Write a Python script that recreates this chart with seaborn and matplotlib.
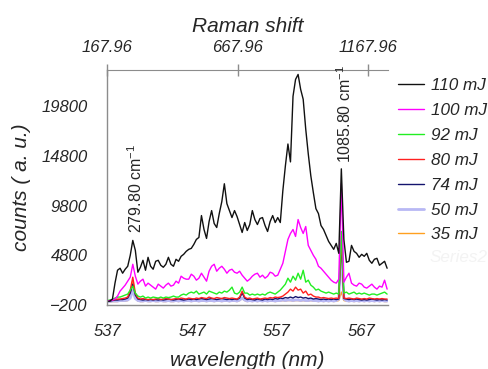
import numpy as np
import pandas as pd
import seaborn as sns
import matplotlib.pyplot as plt

sns.set_style("white")
plt.rcParams['font.family'] = ['Liberation Sans', 'DejaVu Sans']
plt.rcParams['mathtext.fontset'] = 'custom'
plt.rcParams['mathtext.rm'] = 'Liberation Sans'

# wavelength grid (nm), 0.3 nm steps from 537 to 570
wavelength = np.round(537 + 0.3 * np.arange(111), 2)

mj110 = [150, 200, 400, 2000, 3300, 3500, 3000, 3400, 3700, 4800,
         6300, 5300, 3100, 3600, 4300, 3300, 4600, 3700, 3400, 4200,
         4300, 3800, 3600, 3900, 4600, 3900, 3700, 4400, 4200, 4700,
         4900, 5200, 5400, 5500, 5900, 6400, 6600, 8800, 7400, 6500,
         8200, 9300, 8000, 7600, 9000, 10200, 12000, 10000, 9300, 8600,
         9300, 8700, 7900, 7100, 8100, 7300, 7900, 9300, 8400, 7900,
         8500, 8600, 7800, 7200, 8200, 8800, 8100, 8600, 8100, 11300,
         13800, 16000, 14200, 20800, 22500, 23000, 21500, 20500, 17500, 15000,
         12800, 11100, 9500, 9000, 7800, 7400, 6800, 6200, 5800, 5400,
         6000, 5000, 13500, 6400, 4100, 4200, 5800, 5200, 5000, 4600,
         4900, 4700, 5000, 4300, 4000, 4400, 4500, 3800, 4000, 4200,
         3500]
mj100 = [200, 250, 300, 400, 700, 1200, 1500, 1800, 2200, 2600,
         3900, 2700, 1900, 2200, 2400, 1700, 2000, 1800, 1600, 1400,
         1900, 1700, 1500, 1800, 2000, 1700, 1800, 2200, 2000, 2700,
         2500, 2400, 2400, 2900, 2700, 2300, 2500, 3000, 2600, 2200,
         3200, 3700, 3900, 3200, 3500, 3700, 3400, 3000, 3300, 3400,
         3100, 3000, 3200, 2800, 2500, 2200, 2400, 2700, 2900, 3000,
         2600, 2800, 2500, 2700, 3100, 3000, 2700, 2800, 3400, 4000,
         5200, 6400, 7000, 7400, 6700, 8400, 7600, 7000, 7700, 5800,
         5300, 4800, 4400, 3700, 3500, 3200, 2900, 2600, 2300, 2100,
         2000, 2400, 12000, 2100, 2600, 3000, 2000, 1800, 1700, 2000,
         1900, 1600, 1500, 1700, 1900, 1600, 1400, 1700, 1600, 2300,
         1400]
mj92 = [250, 300, 350, 500, 600, 600, 700, 800, 900, 1300,
        1700, 1000, 700, 600, 700, 500, 600, 500, 600, 550,
        500, 600, 500, 600, 550, 600, 700, 600, 600, 800,
        900, 800, 1000, 1100, 1000, 1200, 900, 1000, 1100, 900,
        1200, 1100, 1000, 900, 1100, 1000, 1200, 1100, 1300, 1600,
        1000, 900, 1100, 1600, 1000, 1000, 800, 900, 800, 900,
        800, 900, 800, 1000, 1100, 1000, 900, 1100, 1300, 1600,
        1900, 2500, 2100, 2700, 2300, 3000, 2400, 3300, 2100, 2300,
        1800, 1600, 1300, 1400, 1200, 1100, 1000, 1100, 1000, 900,
        1000, 900, 7200, 1000, 1100, 900, 1000, 1100, 900, 1000,
        900, 1000, 900, 800, 900, 900, 800, 900, 1000, 1100,
        900]
mj80 = [200, 250, 300, 350, 400, 400, 450, 500, 600, 1300,
        2600, 1000, 500, 400, 450, 400, 350, 400, 350, 400,
        450, 350, 400, 450, 400, 350, 400, 450, 400, 500,
        450, 400, 500, 450, 400, 500, 450, 550, 500, 450,
        600, 500, 450, 550, 500, 450, 550, 500, 450, 500,
        450, 400, 600, 1200, 600, 450, 500, 400, 450, 500,
        400, 450, 500, 450, 550, 500, 600, 550, 600, 700,
        900, 1100, 1400, 1200, 1600, 1300, 1400, 1000, 1200, 800,
        900, 700, 600, 600, 500, 550, 500, 450, 500, 450,
        500, 450, 6700, 500, 450, 500, 450, 400, 500, 450,
        400, 450, 400, 500, 450, 400, 450, 400, 450, 400,
        400]
mj74 = [200, 200, 250, 300, 300, 350, 350, 400, 500, 1000,
        1900, 800, 400, 350, 300, 350, 300, 350, 300, 350,
        300, 350, 300, 350, 400, 350, 300, 350, 400, 350,
        300, 350, 400, 350, 400, 350, 400, 450, 400, 350,
        400, 450, 400, 350, 400, 450, 400, 350, 400, 350,
        400, 350, 500, 1000, 500, 350, 400, 350, 300, 400,
        350, 300, 400, 350, 400, 350, 450, 400, 500, 450,
        550, 500, 600, 500, 650, 550, 600, 500, 550, 450,
        500, 400, 450, 400, 350, 400, 350, 400, 350, 400,
        350, 400, 6300, 450, 400, 350, 400, 350, 400, 350,
        300, 350, 300, 350, 400, 350, 300, 350, 300, 350,
        300]
mj50 = [150, 150, 200, 200, 200, 250, 250, 250, 300, 500,
        1300, 450, 250, 200, 200, 250, 200, 200, 250, 200,
        200, 250, 200, 200, 250, 200, 200, 250, 200, 250,
        200, 250, 250, 200, 250, 250, 200, 250, 250, 200,
        250, 250, 200, 250, 250, 200, 250, 250, 200, 250,
        250, 200, 300, 500, 300, 200, 250, 200, 250, 200,
        250, 200, 250, 200, 250, 250, 200, 250, 250, 300,
        250, 300, 300, 250, 300, 300, 250, 300, 250, 250,
        300, 250, 250, 200, 250, 200, 250, 200, 250, 200,
        250, 400, 5800, 400, 250, 200, 250, 200, 250, 200,
        250, 200, 250, 200, 250, 200, 250, 200, 250, 200,
        200]
mj35 = [100, 100, 150, 150, 150, 200, 200, 200, 250, 800,
        2300, 600, 200, 150, 150, 200, 150, 150, 200, 150,
        150, 200, 150, 150, 200, 150, 150, 200, 150, 200,
        150, 200, 200, 150, 200, 200, 150, 200, 200, 150,
        200, 200, 150, 200, 200, 150, 200, 200, 150, 200,
        200, 150, 250, 450, 250, 150, 200, 150, 200, 150,
        200, 150, 200, 150, 200, 200, 150, 200, 200, 250,
        200, 250, 250, 200, 250, 250, 200, 250, 200, 200,
        250, 200, 200, 150, 200, 150, 200, 150, 200, 150,
        200, 250, 1100, 250, 200, 150, 200, 150, 200, 150,
        200, 150, 200, 150, 200, 150, 200, 150, 200, 150,
        150]

labels = ['110 mJ', '100 mJ', '92 mJ', '80 mJ', '74 mJ', '50 mJ', '35 mJ']
colors = ['#111111', '#ff00ff', '#22ee22', '#ff2020', '#14146e', '#b8b8f4', '#ffa020']
widths = [1.0, 1.0, 1.0, 1.0, 1.0, 2.0, 1.0]

series = [mj110, mj100, mj92, mj80, mj74, mj50, mj35]
df = pd.concat([pd.DataFrame({'wavelength': wavelength, 'counts': s, 'energy': lab})
                for s, lab in zip(series, labels)], ignore_index=True)

fig = plt.figure(figsize=(4.88, 3.69), dpi=100)
ax = fig.add_axes([0.22, 0.1734, 0.575, 0.637])

# draw bottom-up so the 110 mJ trace sits on top like the original
for lab, col, lw in reversed(list(zip(labels, colors, widths))):
    sns.lineplot(data=df[df['energy'] == lab], x='wavelength', y='counts',
                 color=col, lw=lw, ax=ax, label=lab, sort=False, estimator=None)

ax.set_xlim(537, 570.1)
ax.set_ylim(-200, 23450)
ax.set_xticks([537, 547, 557, 567])
ax.set_yticks([-200, 4800, 9800, 14800, 19800])
ax.set_xlabel('wavelength (nm)', fontsize=15, style='italic', labelpad=8)
ax.set_ylabel('counts ( a. u.)', fontsize=15, style='italic', labelpad=8)

gray = '#8c8c8c'
for side in ['left', 'bottom']:
    ax.spines[side].set_color(gray)
    ax.spines[side].set_linewidth(1.0)
ax.spines['right'].set_visible(False)
ax.spines['top'].set_visible(False)
ax.tick_params(axis='both', direction='out', length=6, width=1, color=gray,
               labelsize=12, pad=8)
for t in ax.get_xticklabels() + ax.get_yticklabels():
    t.set_style('italic')

# Raman shift on top, linear in wavelength
def to_shift(w):
    return 167.96 + (w - 537) * 500 / 15.37

def to_wl(s):
    return 537 + (s - 167.96) * 15.37 / 500

top = ax.secondary_xaxis('top', functions=(to_shift, to_wl))
top.set_xticks([167.96, 667.96, 1167.96])
top.set_xticklabels(['167.96', '667.96', '1167.96'])
top.spines['top'].set_color(gray)
top.tick_params(direction='inout', length=9, width=1, color=gray, labelsize=12, pad=6)
for t in top.get_xticklabels():
    t.set_style('italic')
top.set_xlabel('Raman shift', fontsize=15, style='italic', labelpad=6)

ax.text(540.3, 7000, '279.80 cm$^{-1}$', rotation=90, ha='center', va='bottom', fontsize=11.5)
ax.text(565.05, 14100, '1085.80 cm$^{-1}$', rotation=90, ha='center', va='bottom', fontsize=11.5)

h, l = ax.get_legend_handles_labels()
order = [l.index(x) for x in labels]
leg = ax.legend([h[i] for i in order], [l[i] for i in order], frameon=False,
                loc='upper left', bbox_to_anchor=(398 / 488, 1 - 78 / 369),
                bbox_transform=fig.transFigure, borderpad=0, borderaxespad=0,
                handlelength=1.5, handletextpad=0.45, labelspacing=0.58,
                prop={'size': 12.3, 'style': 'italic'})
fig.text(430 / 488, 1 - 257 / 369, 'Series2', color='#f3f3f3', fontsize=12.3,
         style='italic', va='center')

fig.savefig('out.png', dpi=100)
